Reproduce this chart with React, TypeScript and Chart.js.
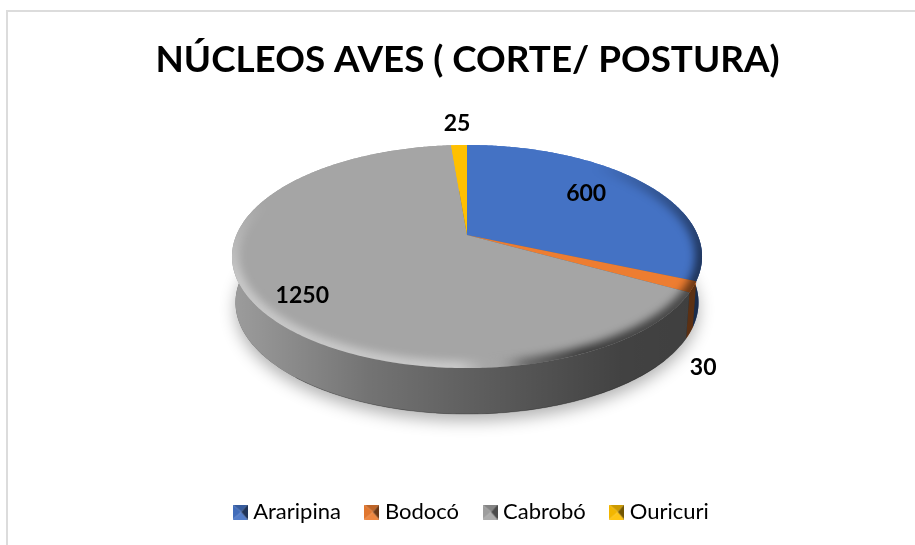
import React, { useEffect, useRef } from "react";
import { Chart, registerables } from "chart.js";

Chart.register(...registerables);

const categories = ["Araripina", "Bodocó", "Cabrobó", "Ouricuri"];
const values = [600, 30, 1250, 25];
const colors = ["#4472c4", "#ed7d31", "#a5a5a5", "#ffc000"];
const chartTitle = "NÚCLEOS AVES ( CORTE/ POSTURA)";

// radial position of each value label, with a nudge in pixels
const labelRadial = [0.65, 1, 0.75, 1];
const labelNudge = [[2, -6], [10, 81], [-7, 13], [-2, -21]];

// perspective of the 3D disc
const CX = 467, APEX_Y = 235, BX = 230.6, AY = 107.4, K = -0.193, DEPTH = 46, BOTTOM_W = 0.985;
const TITLE_SHIFT = 10, LEGEND_SHIFT = 16;

function project(a: number, r = 1, bottom = false) {
  const u = Math.cos(a) * r, v = Math.sin(a) * r;
  const d = 1 + K * v;
  return {
    x: CX + (BX * u * (bottom ? BOTTOM_W : 1)) / d,
    y: APEX_Y + (AY * v) / d + (bottom ? DEPTH : 0),
  };
}

function ellipsePath(ctx: CanvasRenderingContext2D, bottom: boolean) {
  ctx.beginPath();
  for (let i = 0; i <= 360; i += 1) {
    const p = project((i * Math.PI) / 180, 1, bottom);
    if (i === 0) ctx.moveTo(p.x, p.y);
    else ctx.lineTo(p.x, p.y);
  }
  ctx.closePath();
}

function arcPoints(s: number, e: number, bottom: boolean) {
  const n = Math.max(2, Math.ceil(Math.abs(e - s) / 0.01));
  const pts = [];
  for (let i = 0; i <= n; i++) pts.push(project(s + ((e - s) * i) / n, 1, bottom));
  return pts;
}

function shade(hex: string, f: number) {
  const n = parseInt(hex.slice(1), 16);
  const c = [(n >> 16) & 255, (n >> 8) & 255, n & 255].map((x) =>
    Math.round(f <= 1 ? x * f : x + (255 - x) * (f - 1))
  );
  return `rgb(${c[0]},${c[1]},${c[2]})`;
}

function makeSwatch(color: string) {
  const s = 15;
  const c = document.createElement("canvas");
  c.width = s;
  c.height = s;
  const g = c.getContext("2d")!;
  const tri = (pts: number[][], fill: string) => {
    g.beginPath();
    g.moveTo(pts[0][0], pts[0][1]);
    g.lineTo(pts[1][0], pts[1][1]);
    g.lineTo(pts[2][0], pts[2][1]);
    g.closePath();
    g.fillStyle = fill;
    g.fill();
  };
  const m = s / 2 + 1;
  tri([[0, 0], [s, 0], [m, s / 2]], shade(color, 0.8));
  tri([[0, s], [s, s], [m, s / 2]], shade(color, 1.08));
  tri([[0, 0], [0, s], [m, s / 2]], shade(color, 0.95));
  tri([[s, 0], [s, s], [m, s / 2]], shade(color, 0.45));
  return c;
}

const disc3d = {
  id: "disc3d",
  afterLayout(chart: any) {
    chart.titleBlock.left += TITLE_SHIFT;
    chart.titleBlock.right += TITLE_SHIFT;
    chart.legend.left += LEGEND_SHIFT;
    chart.legend.right += LEGEND_SHIFT;
  },
  beforeDraw(chart: any) {
    const ctx = chart.ctx;
    ctx.save();
    ctx.strokeStyle = "#dcdcdc";
    ctx.lineWidth = 2;
    ctx.beginPath();
    ctx.moveTo(7, chart.height);
    ctx.lineTo(7, 11);
    ctx.lineTo(chart.width, 11);
    ctx.stroke();
    ctx.restore();
  },
  beforeDatasetsDraw(chart: any) {
    const ctx: CanvasRenderingContext2D = chart.ctx;
    const arcs = chart.getDatasetMeta(0).data;
    ctx.save();

    // soft shadow under the disc
    ctx.save();
    ctx.shadowColor = "rgba(0,0,0,0.3)";
    ctx.shadowBlur = 16;
    ctx.shadowOffsetY = 7;
    ellipsePath(ctx, true);
    ctx.fillStyle = "#666";
    ctx.fill();
    ctx.restore();

    // side wall
    arcs.forEach((arc: any, i: number) => {
      const top = arcPoints(arc.startAngle, arc.endAngle, false);
      const bot = arcPoints(arc.startAngle, arc.endAngle, true).reverse();
      ctx.beginPath();
      top.concat(bot).forEach((p, j) => (j ? ctx.lineTo(p.x, p.y) : ctx.moveTo(p.x, p.y)));
      ctx.closePath();
      ctx.fillStyle = colors[i];
      ctx.fill();
    });
    const wall = ctx.createLinearGradient(232, 0, 702, 0);
    wall.addColorStop(0, "rgba(0,0,0,0.05)");
    wall.addColorStop(0.29, "rgba(0,0,0,0.3)");
    wall.addColorStop(0.5, "rgba(0,0,0,0.42)");
    wall.addColorStop(0.83, "rgba(0,0,0,0.6)");
    wall.addColorStop(1, "rgba(0,0,0,0.62)");
    ctx.beginPath();
    for (let d = -12; d <= 192; d += 1) {
      const p = project((d * Math.PI) / 180, 1, false);
      d > -12 ? ctx.lineTo(p.x, p.y) : ctx.moveTo(p.x, p.y);
    }
    for (let d = 192; d >= -12; d -= 1) {
      const p = project((d * Math.PI) / 180, 1, true);
      ctx.lineTo(p.x, p.y);
    }
    ctx.closePath();
    ctx.fillStyle = wall;
    ctx.fill();

    // thin dark line along the lower rim
    ctx.beginPath();
    for (let d = 40; d <= 130; d += 1) {
      const p = project((d * Math.PI) / 180, 1, true);
      d > 40 ? ctx.lineTo(p.x, p.y) : ctx.moveTo(p.x, p.y);
    }
    ctx.strokeStyle = "rgba(0,0,0,0.22)";
    ctx.lineWidth = 1;
    ctx.stroke();

    // top face: one slice per arc element
    arcs.forEach((arc: any, i: number) => {
      const pts = arcPoints(arc.startAngle, arc.endAngle, false);
      ctx.beginPath();
      ctx.moveTo(CX, APEX_Y);
      pts.forEach((p) => ctx.lineTo(p.x, p.y));
      ctx.closePath();
      ctx.fillStyle = colors[i];
      ctx.fill();
    });

    // bevel around the front of the top face
    ctx.save();
    ellipsePath(ctx, false);
    ctx.clip();
    const bevel = (ctx as any).createConicGradient(0, CX, 256.5);
    const stops: [number, string][] = [
      [0, "rgba(0,0,0,0.55)"],
      [40, "rgba(0,0,0,0.65)"],
      [62, "rgba(0,0,0,0.35)"],
      [80, "rgba(255,255,255,0)"],
      [95, "rgba(255,255,255,0.42)"],
      [175, "rgba(255,255,255,0.4)"],
      [195, "rgba(255,255,255,0)"],
      [325, "rgba(0,0,0,0)"],
      [360, "rgba(0,0,0,0.55)"],
    ];
    stops.forEach(([t, c]) => bevel.addColorStop(t / 360, c));
    (ctx as any).filter = "blur(4px)";
    ellipsePath(ctx, false);
    ctx.strokeStyle = bevel;
    ctx.lineWidth = 14;
    ctx.stroke();
    (ctx as any).filter = "none";
    ctx.restore();

    ctx.restore();
    return false;
  },
  afterDraw(chart: any) {
    const ctx: CanvasRenderingContext2D = chart.ctx;
    const arcs = chart.getDatasetMeta(0).data;
    ctx.save();
    ctx.font = "bold 23px Lato";
    ctx.fillStyle = "#000";
    ctx.textAlign = "center";
    ctx.textBaseline = "middle";
    arcs.forEach((arc: any, i: number) => {
      const p = project((arc.startAngle + arc.endAngle) / 2, labelRadial[i]);
      ctx.fillText(String(values[i]), p.x + labelNudge[i][0], p.y + labelNudge[i][1]);
    });
    ctx.restore();
  },
};

export default function App() {
  const ref = useRef<HTMLCanvasElement>(null);
  useEffect(() => {
    document.body.style.margin = "0";
    const swatches = colors.map(makeSwatch);
    const chart = new Chart(ref.current!, {
      type: "pie",
      data: {
        labels: categories,
        datasets: [{ data: values, backgroundColor: colors, borderWidth: 0 }],
      },
      plugins: [disc3d],
      options: {
        responsive: false,
        animation: false,
        layout: { padding: { top: 38, bottom: 12 } },
        plugins: {
          tooltip: { enabled: false },
          title: {
            display: true,
            text: chartTitle,
            color: "#000",
            font: { family: "Lato", size: 36.8, weight: "bold" },
            padding: { top: 0, bottom: 10 },
          },
          legend: {
            position: "bottom",
            labels: {
              color: "#000",
              font: { family: "Lato", size: 22 },
              usePointStyle: true,
              pointStyleWidth: 4,
              padding: 29,
              generateLabels: () =>
                categories.map((t, i) => ({
                  text: t,
                  pointStyle: swatches[i],
                  fillStyle: colors[i],
                  strokeStyle: colors[i],
                  lineWidth: 0,
                  index: i,
                  hidden: false,
                })),
            },
          },
        },
      },
    } as any);
    return () => chart.destroy();
  }, []);
  return <canvas ref={ref} width={915} height={545} style={{ display: "block" }} />;
}
